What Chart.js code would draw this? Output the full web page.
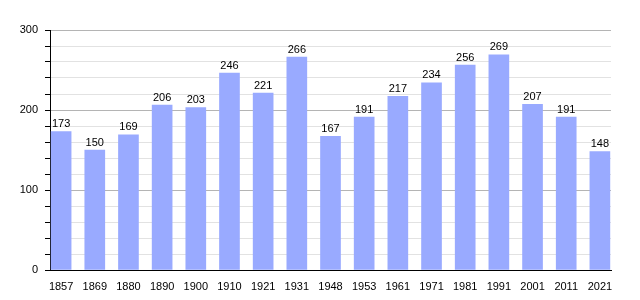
<!DOCTYPE html>
<html>
<head>
<meta charset="utf-8">
<script src="https://cdn.jsdelivr.net/npm/chart.js@4/dist/chart.umd.min.js"></script>
<style>
  html, body { margin: 0; padding: 0; background: #fff; }
  #wrap { width: 640px; height: 300px; }
</style>
</head>
<body>
<div id="wrap"><canvas id="popChart"></canvas></div>
<script>
const years = ['1857', '1869', '1880', '1890', '1900', '1910', '1921', '1931', '1948', '1953', '1961', '1971', '1981', '1991', '2001', '2011', '2021'];
const population = [173, 150, 169, 206, 203, 246, 221, 266, 167, 191, 217, 234, 256, 269, 207, 191, 148];
const yTicks = [0, 100, 200, 300];

// write the value above each bar
const valueLabels = {
    id: 'valueLabels',
    afterDatasetsDraw(chart) {
        const ctx = chart.ctx;
        ctx.save();
        ctx.font = '11px "Liberation Sans", Arial, sans-serif';
        ctx.fillStyle = '#000';
        ctx.textAlign = 'center';
        ctx.textBaseline = 'bottom';
        chart.getDatasetMeta(0).data.forEach((bar, i) => {
            ctx.fillText(population[i], bar.x, bar.y - 2);
        });
        ctx.restore();
    }
};

const ctx = document.getElementById('popChart').getContext('2d');
const popChart = new Chart(ctx, {
    type: 'bar',
    data: {
        datasets: [{
            data: population.map((v, i) => ({ x: i, y: v })),
            backgroundColor: '#99aaff',
            borderWidth: 0,
            barThickness: 20
        }]
    },
    options: {
        responsive: true,
        maintainAspectRatio: false,
        animation: false,
        layout: { padding: { top: 30, right: 29, left: 0, bottom: 0 } },
        plugins: {
            legend: { display: false },
            tooltip: { enabled: false }
        },
        scales: {
            x: {
                type: 'linear',
                offset: false,
                min: -0.33,
                max: 16.33,
                grid: { display: false },
                border: { display: true, color: '#000', width: 1 },
                afterBuildTicks: (scale) => {
                    scale.ticks = years.map((_, i) => ({ value: i }));
                },
                afterFit: (scale) => { scale.height = 30; },
                ticks: {
                    autoSkip: false,
                    maxRotation: 0,
                    padding: 2,
                    color: '#000',
                    font: { family: '"Liberation Sans", Arial, sans-serif', size: 11 },
                    callback: (v) => years[v]
                }
            },
            y: {
                min: 0,
                max: 300,
                border: { display: true, color: '#000', width: 1 },
                grid: {
                    color: (c) => (c.tick && c.tick.value % 100 === 0) ? '#b4b4b4' : '#e2e2e2',
                    tickColor: '#000',
                    tickLength: 5,
                    drawTicks: true
                },
                afterFit: (scale) => { scale.width = 50; },
                ticks: {
                    stepSize: 20,
                    autoSkip: false,
                    padding: 7,
                    color: '#000',
                    font: { family: '"Liberation Sans", Arial, sans-serif', size: 11 },
                    callback: (v) => yTicks.includes(v) ? v : ''
                }
            }
        }
    },
    plugins: [valueLabels]
});
</script>
</body>
</html>
